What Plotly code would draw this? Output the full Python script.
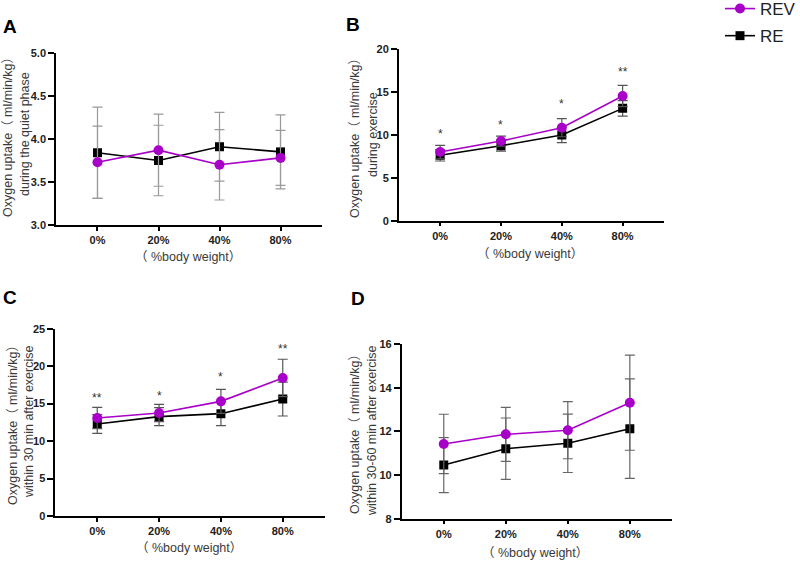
import plotly.graph_objects as go

# x categories (% body weight)
loads = ["0%", "20%", "40%", "80%"]

# A: quiet phase
a_rev = [3.73, 3.87, 3.70, 3.78]
a_rev_sd = [0.42, 0.42, 0.41, 0.32]
a_re = [3.84, 3.75, 3.91, 3.85]
a_re_sd = [0.53, 0.41, 0.40, 0.43]

# B: during exercise
b_rev = [7.98, 9.26, 10.81, 14.50]
b_rev_sd = [0.78, 0.58, 1.05, 1.24]
b_re = [7.60, 8.72, 9.96, 13.06]
b_re_sd = [0.66, 0.62, 0.89, 0.89]
b_stars = ["*", "*", "*", "**"]
b_star_y = [10.1, 11.1, 13.6, 17.3]

# C: within 30 min after exercise
c_rev = [13.08, 13.75, 15.30, 18.42]
c_rev_sd = [1.42, 1.15, 1.60, 2.50]
c_re = [12.28, 13.26, 13.66, 15.61]
c_re_sd = [1.25, 1.20, 1.60, 2.26]
c_stars = ["**", "*", "*", "**"]
c_star_y = [15.8, 16.0, 18.5, 22.3]

# D: within 30-60 min after exercise
d_rev = [11.43, 11.87, 12.06, 13.32]
d_rev_sd = [1.36, 1.24, 1.31, 2.18]
d_re = [10.46, 11.21, 11.46, 12.13]
d_re_sd = [1.26, 1.41, 1.34, 2.28]

REV_COLOR = "#a800c8"
FONT = "Liberation Sans, Arial, Noto Sans CJK SC, sans-serif"

panels = [
    # (axis suffix, rev, rev_sd, re, re_sd, yrange, dtick, tickformat, err color)
    ("", a_rev, a_rev_sd, a_re, a_re_sd, [3, 5], 0.5, ".1f", "#9a9a9a"),
    ("2", b_rev, b_rev_sd, b_re, b_re_sd, [0, 20], 5, "d", "#555555"),
    ("3", c_rev, c_rev_sd, c_re, c_re_sd, [0, 25], 5, "d", "#555555"),
    ("4", d_rev, d_rev_sd, d_re, d_re_sd, [8, 16], 2, "d", "#666666"),
]

x_domains = [[0.070, 0.4025], [0.4985, 0.830], [0.069, 0.406], [0.502, 0.840]]
y_domains = [[0.599, 0.9055], [0.6066, 0.9132], [0.0802, 0.4141], [0.0754, 0.3863]]

fig = go.Figure()

for i, (sfx, rev, rev_sd, re, re_sd, yr, dt, tf, ecol) in enumerate(panels):
    xa = "x" + sfx
    ya = "y" + sfx
    fig.add_trace(go.Scatter(
        x=loads, y=re, xaxis=xa, yaxis=ya, name="RE", legendgroup="RE",
        showlegend=(i == 0), legendrank=2, mode="lines+markers",
        line=dict(color="black", width=1.6),
        marker=dict(symbol="square", size=9, color="black"),
        error_y=dict(type="data", array=re_sd, color=ecol, thickness=1.2, width=5),
    ))
    fig.add_trace(go.Scatter(
        x=loads, y=rev, xaxis=xa, yaxis=ya, name="REV", legendgroup="REV",
        showlegend=(i == 0), legendrank=1, mode="lines+markers",
        line=dict(color=REV_COLOR, width=1.6),
        marker=dict(symbol="circle", size=10, color=REV_COLOR),
        error_y=dict(type="data", array=rev_sd, color=ecol, thickness=1.2, width=5),
    ))

    axis_common = dict(
        showline=True, linecolor="black", linewidth=1.5, ticks="outside",
        tickcolor="black", tickwidth=1.5, showgrid=False, zeroline=False,
        tickfont=dict(family=FONT, size=11, color="#222222", weight="bold"),
    )
    fig.layout["xaxis" + sfx] = dict(
        axis_common, domain=x_domains[i], anchor=ya, type="category",
        categoryorder="array", categoryarray=loads, range=[-0.68, 3.68], ticklen=4,
    )
    fig.layout["yaxis" + sfx] = dict(
        axis_common, domain=y_domains[i], anchor=xa, range=yr, dtick=dt,
        tickformat=tf, ticklen=6,
    )

# significance marks
for sfx, stars, sy in [("2", b_stars, b_star_y), ("3", c_stars, c_star_y)]:
    for cat, s, yv in zip(loads, stars, sy):
        fig.add_annotation(x=cat, y=yv, xref="x" + sfx, yref="y" + sfx, text=s,
                           showarrow=False, font=dict(family=FONT, size=12, color="#333333"))


def paper_note(text, px, py, size, angle=0, color="#3a3a3a", weight="normal"):
    fig.add_annotation(x=px / 800, y=1 - py / 561, xref="paper", yref="paper", text=text,
                       textangle=angle, showarrow=False, xanchor="center", yanchor="middle",
                       font=dict(family=FONT, size=size, color=color, weight=weight))


# panel letters
for letter, px, py in [("A", 10, 26), ("B", 353, 25), ("C", 10, 297), ("D", 358, 298)]:
    paper_note(letter, px, py, 19, color="black", weight="bold")

# y titles, one annotation per line (first line x, second line x, centre y)
unit_line = "Oxygen uptake（ ml/min/kg）"
ytitles = [
    ("during the quiet phase", 8, 25, 134),
    ("during exercise", 355, 373, 135),
    ("within 30 min after exercise", 13, 29, 422),
    ("within 30-60 min after exercise", 355, 372, 431),
]
for second, x1, x2, py in ytitles:
    paper_note(unit_line, x1, py, 12.5, angle=-90)
    paper_note(second, x2, py, 12.5, angle=-90)

# x titles
for px, py in [(188, 257), (530, 254), (189, 548), (535, 553)]:
    paper_note("（ %body weight）", px, py, 12.5)

fig.update_layout(
    width=800, height=561,
    margin=dict(l=0, r=0, t=0, b=0, autoexpand=False),
    paper_bgcolor="white", plot_bgcolor="white",
    font=dict(family=FONT),
    legend=dict(x=0.9, y=1.016, xanchor="left", yanchor="top", itemwidth=30,
                font=dict(family=FONT, size=17, color="#222222"),
                bgcolor="rgba(0,0,0,0)", tracegroupgap=2),
)

# the default page adds an 8px body margin; drop it so the figure fills the window
fig.write_html("out.html", config={"displayModeBar": False},
               post_script="document.body.style.margin='0';")
